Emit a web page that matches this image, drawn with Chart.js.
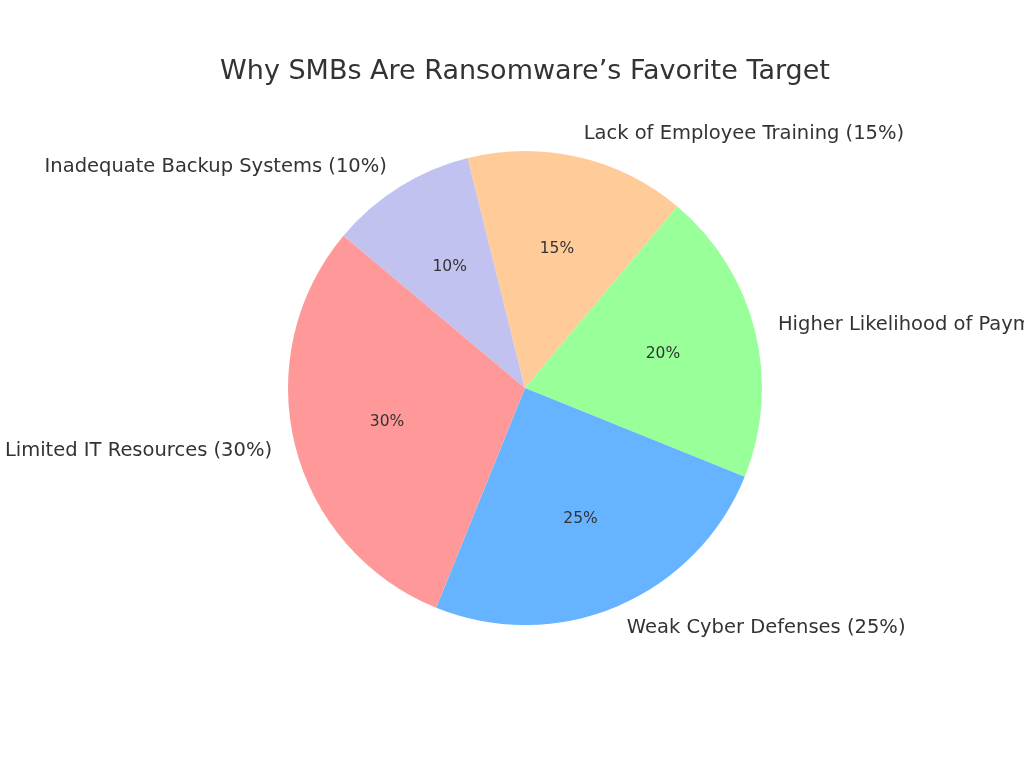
<!DOCTYPE html>
<html><head><meta charset="utf-8">
<script src="https://cdn.jsdelivr.net/npm/chart.js@4"></script>
<style>html,body{margin:0;padding:0;background:#fff}#w{width:1024px;height:768px}</style>
</head><body><div id="w"><canvas id="c"></canvas></div>
<script>
const categories = ["Inadequate Backup Systems","Lack of Employee Training","Higher Likelihood of Payment","Weak Cyber Defenses","Limited IT Resources"];
const values = [10,15,20,25,30];
const colors = ["#c2c2f0","#ffcc99","#99ff99","#66b3ff","#ff9999"];
const titleText = "Why SMBs Are Ransomware\u2019s Favorite Target";

const labelPlugin = {
  id:'lbl',
  afterDraw(chart){
    const ctx = chart.ctx;
    ctx.save();
    ctx.fillStyle = '#333';
    ctx.font = '27px "DejaVu Sans"';
    ctx.textAlign='center'; ctx.textBaseline='middle';
    ctx.fillText(titleText, 525, 72);
    const meta = chart.getDatasetMeta(0);
    const total = values.reduce((a,b)=>a+b,0);
    meta.data.forEach((arc,i)=>{
      const a = (arc.startAngle+arc.endAngle)/2;
      const r = arc.outerRadius;
      const cx=arc.x, cy=arc.y;
      ctx.font='15.5px "DejaVu Sans"';
      ctx.textAlign='center';
      ctx.fillText(Math.round(values[i]/total*100)+'%', cx+Math.cos(a)*r*0.6, cy+Math.sin(a)*r*0.6);
      ctx.font='19.5px "DejaVu Sans"';
      const x = cx+Math.cos(a)*r*1.1, y = cy+Math.sin(a)*r*1.1;
      ctx.textAlign = Math.cos(a)>=0 ? 'left':'right';
      ctx.fillText(categories[i]+' ('+Math.round(values[i]/total*100)+'%)', x, y);
    });
    ctx.restore();
  }
};

new Chart(document.getElementById('c'),{
  type:'pie',
  data:{labels:categories,datasets:[{data:values,backgroundColor:colors,borderWidth:0}]},
  options:{
    responsive:true,maintainAspectRatio:false,animation:false,
    rotation:-50,
    layout:{padding:{top:151,bottom:143,left:288,right:262}},
    plugins:{legend:{display:false},tooltip:{enabled:false},title:{display:false}}
  },
  plugins:[labelPlugin]
});
</script></body></html>
